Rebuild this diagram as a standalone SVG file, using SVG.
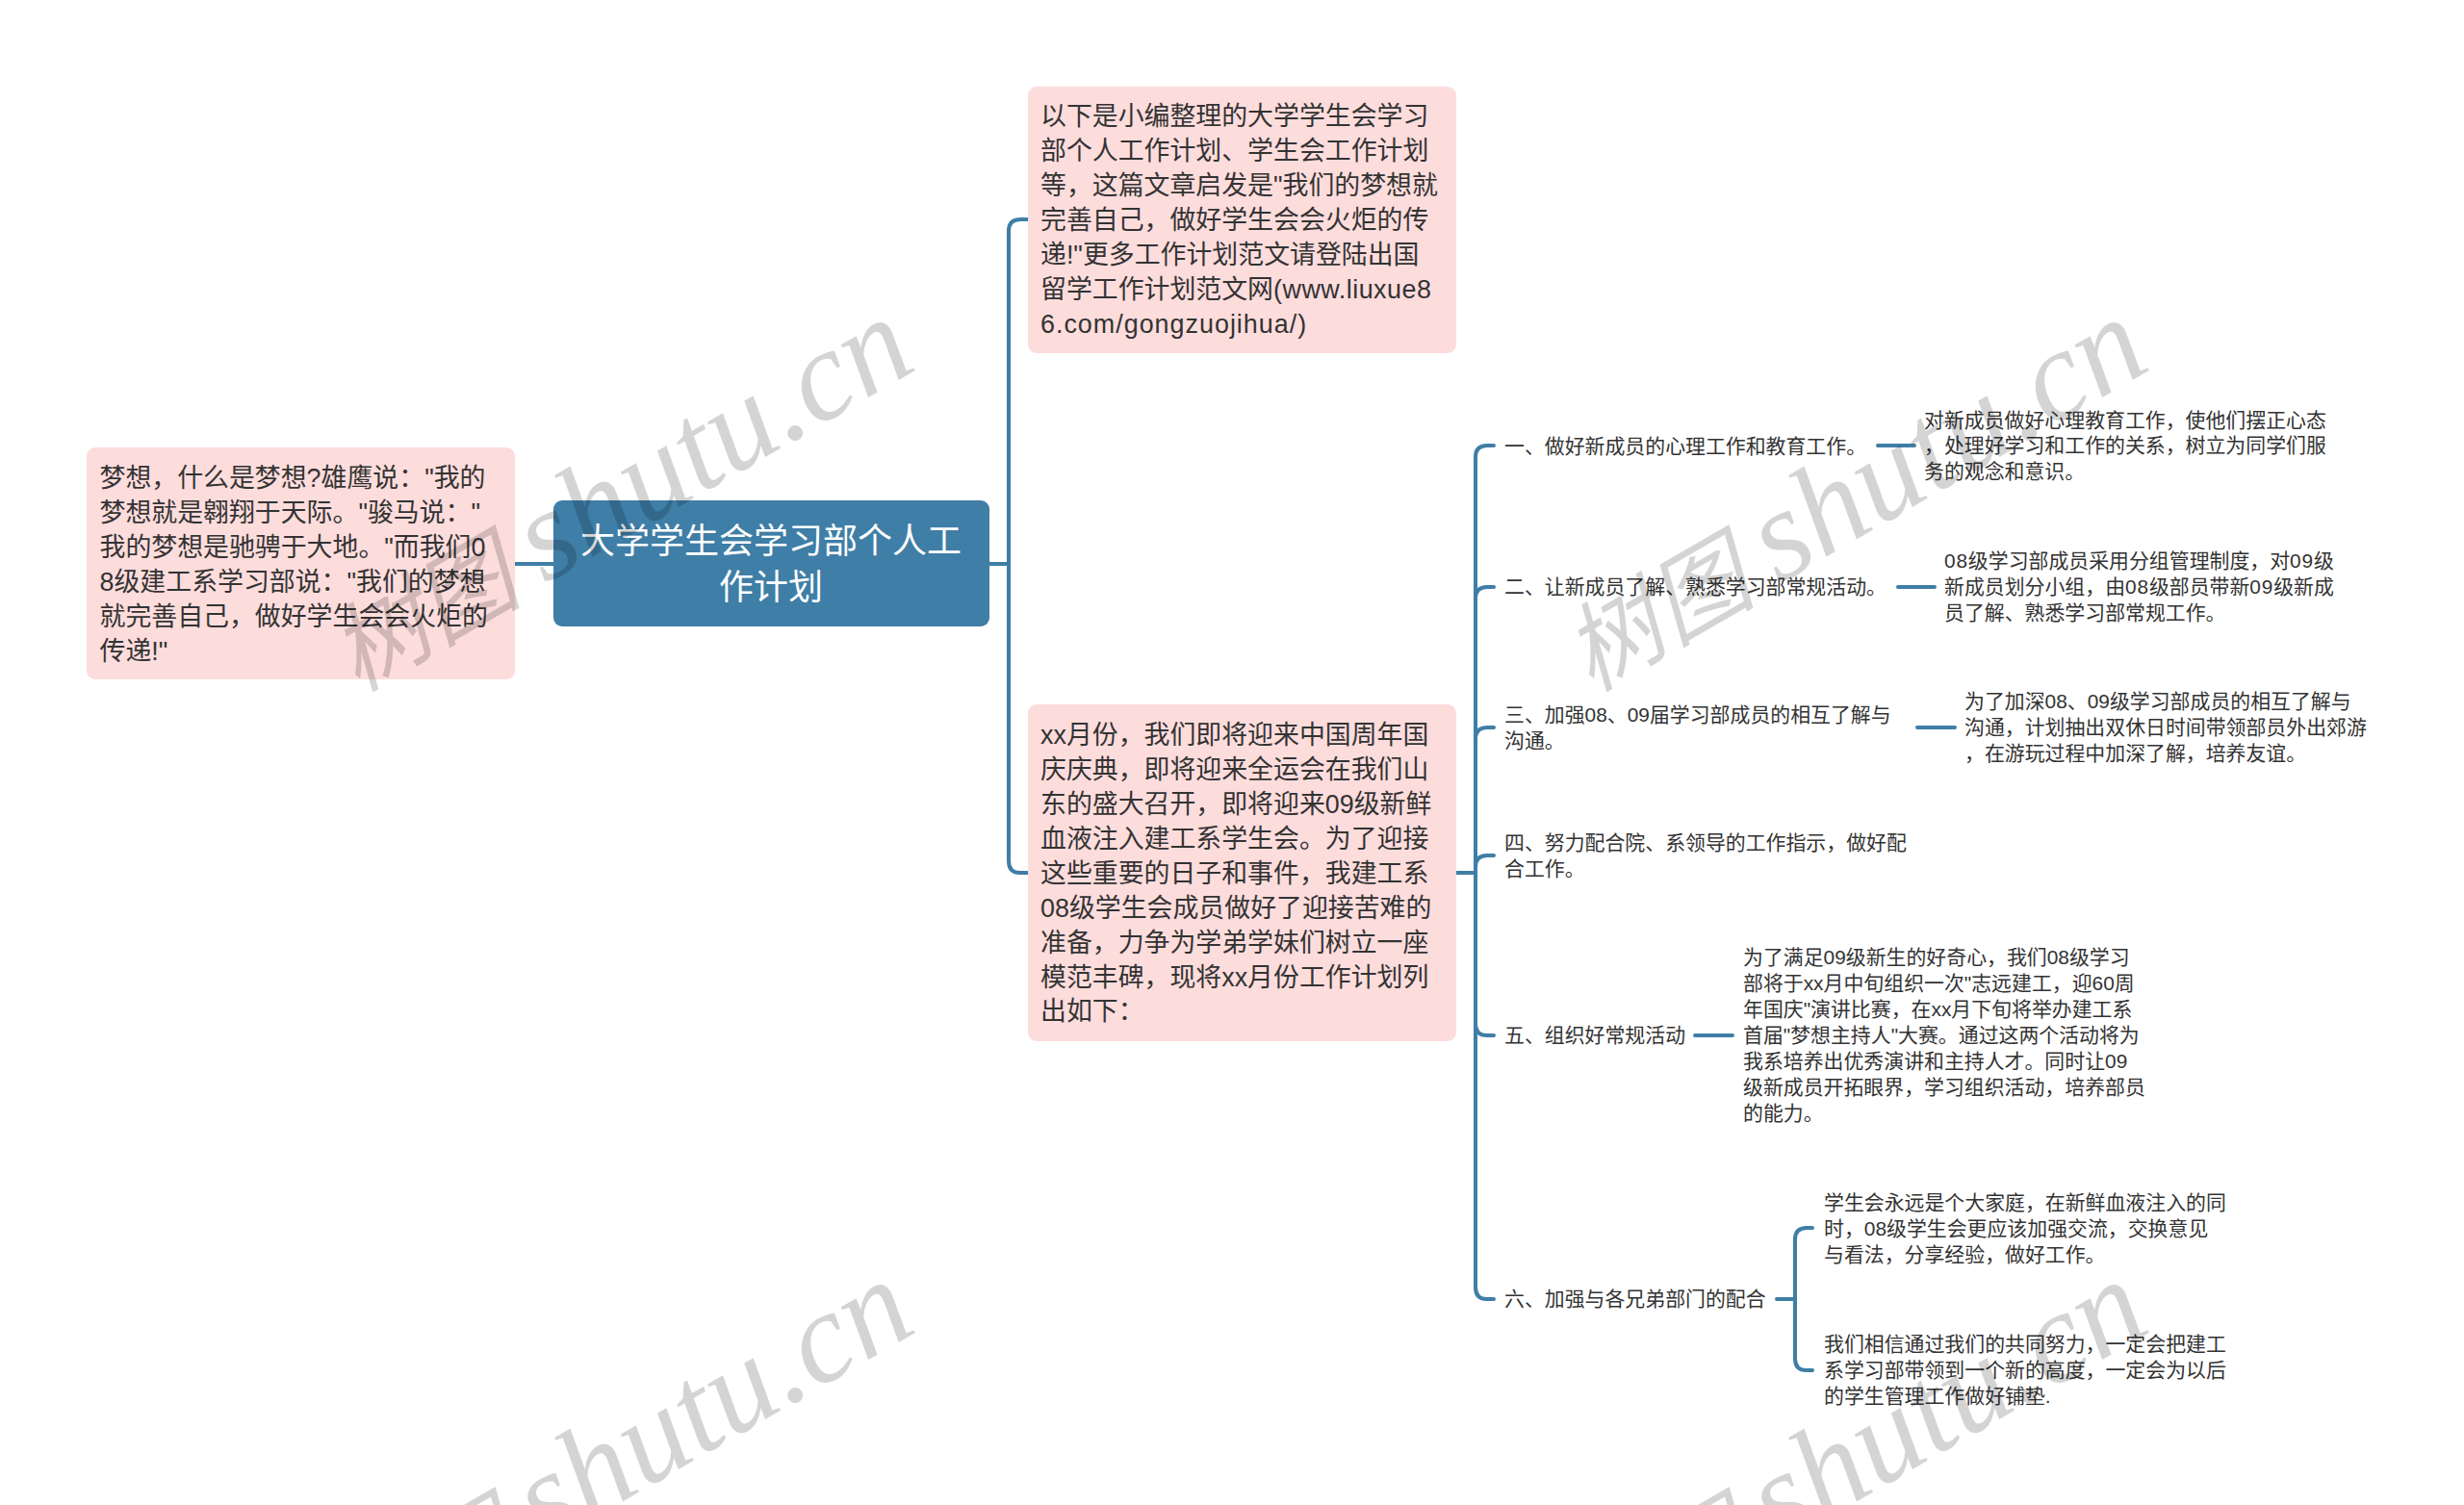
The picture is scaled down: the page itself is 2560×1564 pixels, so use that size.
<svg xmlns="http://www.w3.org/2000/svg" width="2560" height="1564" viewBox="0 0 2560 1564">
<style>
text{font-family:"Liberation Sans","Noto Sans CJK SC",sans-serif;fill:#333}
.box{fill:#fddcdc}
.l{font-size:26.9px}
.s{font-size:20.9px}
.r{font-size:36px;fill:#fff;text-anchor:middle}
.c{fill:none;stroke:#3f7ea6;stroke-width:4;stroke-linecap:round}
.w{font-family:"Liberation Serif","Noto Sans CJK SC",serif;font-size:134px;font-style:italic;fill:#000;fill-opacity:.17;text-anchor:end}
.w tspan{font-size:100px}
</style>
<rect width="2560" height="1564" fill="#fff"/>
<g id="connectors">
<path class="c" d="M535 586H575"/>
<path class="c" d="M1028 586H1048M1068 228H1060Q1048 228 1048 240V895Q1048 907 1060 907H1068"/>
<path class="c" d="M1513 907H1533M1552 463H1545Q1533 463 1533 475V1338Q1533 1350 1545 1350H1552M1552 610H1545Q1533 610 1533 622M1552 756H1545Q1533 756 1533 768M1552 889H1545Q1533 889 1533 901M1552 1076H1545Q1533 1076 1533 1064"/>
<path class="c" d="M1951 463H1989M1972 610H2010M1992 756H2031M1761 1076H1800"/>
<path class="c" d="M1846 1350H1865M1883 1276H1877Q1865 1276 1865 1288V1412Q1865 1424 1877 1424H1883"/>
</g>
<g id="root"><rect x="575" y="520" width="453" height="131" rx="9" fill="#3f7ea6"/>
<text class="r"><tspan x="801" y="575">大学学生会学习部个人工</tspan><tspan x="801" y="623">作计划</tspan></text></g>
<g id="left-note"><rect class="box" x="90" y="465" width="445" height="241" rx="9"/>
<text class="l"><tspan x="103.5" y="506">梦想，什么是梦想?雄鹰说："我的</tspan><tspan x="103.5" y="542">梦想就是翱翔于天际。"骏马说："</tspan><tspan x="103.5" y="578">我的梦想是驰骋于大地。"而我们0</tspan><tspan x="103.5" y="614">8级建工系学习部说："我们的梦想</tspan><tspan x="103.5" y="650">就完善自己，做好学生会会火炬的</tspan><tspan x="103.5" y="686">传递!"</tspan></text></g>
<g id="intro"><rect class="box" x="1068" y="90" width="445" height="277" rx="9"/>
<text class="l"><tspan x="1081" y="130">以下是小编整理的大学学生会学习</tspan><tspan x="1081" y="166">部个人工作计划、学生会工作计划</tspan><tspan x="1081" y="202">等，这篇文章启发是"我们的梦想就</tspan><tspan x="1081" y="238">完善自己，做好学生会会火炬的传</tspan><tspan x="1081" y="274">递!"更多工作计划范文请登陆出国</tspan><tspan x="1081" y="310">留学工作计划范文网<tspan letter-spacing=".5">(www.liuxue8</tspan></tspan><tspan x="1081" y="346" letter-spacing="1">6.com/gongzuojihua/)</tspan></text></g>
<g id="plan"><rect class="box" x="1068" y="732" width="445" height="350" rx="9"/>
<text class="l"><tspan x="1081" y="773">xx月份，我们即将迎来中国周年国</tspan><tspan x="1081" y="809">庆庆典，即将迎来全运会在我们山</tspan><tspan x="1081" y="845">东的盛大召开，即将迎来09级新鲜</tspan><tspan x="1081" y="881">血液注入建工系学生会。为了迎接</tspan><tspan x="1081" y="917">这些重要的日子和事件，我建工系</tspan><tspan x="1081" y="953">08级学生会成员做好了迎接苦难的</tspan><tspan x="1081" y="989">准备，力争为学弟学妹们树立一座</tspan><tspan x="1081" y="1025">模范丰碑，现将xx月份工作计划列</tspan><tspan x="1081" y="1060">出如下：</tspan></text></g>
<g id="item1"><text class="s"><tspan x="1563" y="471">一、做好新成员的心理工作和教育工作。</tspan></text></g>
<g id="item2"><text class="s"><tspan x="1563" y="617">二、让新成员了解、熟悉学习部常规活动。</tspan></text></g>
<g id="item3"><text class="s"><tspan x="1563" y="750">三、加强08、09届学习部成员的相互了解与</tspan><tspan x="1563" y="777">沟通。</tspan></text></g>
<g id="item4"><text class="s"><tspan x="1563" y="883">四、努力配合院、系领导的工作指示，做好配</tspan><tspan x="1563" y="910">合工作。</tspan></text></g>
<g id="item5"><text class="s"><tspan x="1563" y="1083">五、组织好常规活动</tspan></text></g>
<g id="item6"><text class="s"><tspan x="1563" y="1357">六、加强与各兄弟部门的配合</tspan></text></g>
<g id="detail1"><text class="s"><tspan x="1999" y="444">对新成员做好心理教育工作，使他们摆正心态</tspan><tspan x="1999" y="470">，处理好学习和工作的关系，树立为同学们服</tspan><tspan x="1999" y="497">务的观念和意识。</tspan></text></g>
<g id="detail2"><text class="s"><tspan x="2020" y="590"><tspan letter-spacing=".8">08</tspan>级学习部成员采用分组管理制度，对<tspan letter-spacing=".8">09</tspan>级</tspan><tspan x="2020" y="617">新成员划分小组，由<tspan letter-spacing=".8">08</tspan>级部员带新<tspan letter-spacing=".8">09</tspan>级新成</tspan><tspan x="2020" y="644">员了解、熟悉学习部常规工作。</tspan></text></g>
<g id="detail3"><text class="s"><tspan x="2041" y="736">为了加深08、09级学习部成员的相互了解与</tspan><tspan x="2041" y="763">沟通，计划抽出双休日时间带领部员外出郊游</tspan><tspan x="2041" y="790">，在游玩过程中加深了解，培养友谊。</tspan></text></g>
<g id="detail5"><text class="s"><tspan x="1811" y="1002">为了满足09级新生的好奇心，我们08级学习</tspan><tspan x="1811" y="1029">部将于xx月中旬组织一次"志远建工，迎60周</tspan><tspan x="1811" y="1056">年国庆"演讲比赛，在xx月下旬将举办建工系</tspan><tspan x="1811" y="1083">首届"梦想主持人"大赛。通过这两个活动将为</tspan><tspan x="1811" y="1110">我系培养出优秀演讲和主持人才。同时让09</tspan><tspan x="1811" y="1137">级新成员开拓眼界，学习组织活动，培养部员</tspan><tspan x="1811" y="1164">的能力。</tspan></text></g>
<g id="detail6a"><text class="s"><tspan x="1895" y="1257">学生会永远是个大家庭，在新鲜血液注入的同</tspan><tspan x="1895" y="1284">时，08级学生会更应该加强交流，交换意见</tspan><tspan x="1895" y="1311">与看法，分享经验，做好工作。</tspan></text></g>
<g id="detail6b"><text class="s"><tspan x="1895" y="1404">我们相信通过我们的共同努力，一定会把建工</tspan><tspan x="1895" y="1431">系学习部带领到一个新的高度，一定会为以后</tspan><tspan x="1895" y="1458">的学生管理工作做好铺垫.</tspan></text></g>
<g id="watermarks">
<text class="w" transform="rotate(-30 956 382)" x="956" y="382"><tspan>树图 </tspan>shutu.cn</text>
<text class="w" transform="rotate(-30 2238 382)" x="2238" y="382"><tspan>树图 </tspan>shutu.cn</text>
<text class="w" transform="rotate(-30 956 1382)" x="956" y="1382"><tspan>树图 </tspan>shutu.cn</text>
<text class="w" transform="rotate(-30 2238 1382)" x="2238" y="1382"><tspan>树图 </tspan>shutu.cn</text>
</g>
</svg>
